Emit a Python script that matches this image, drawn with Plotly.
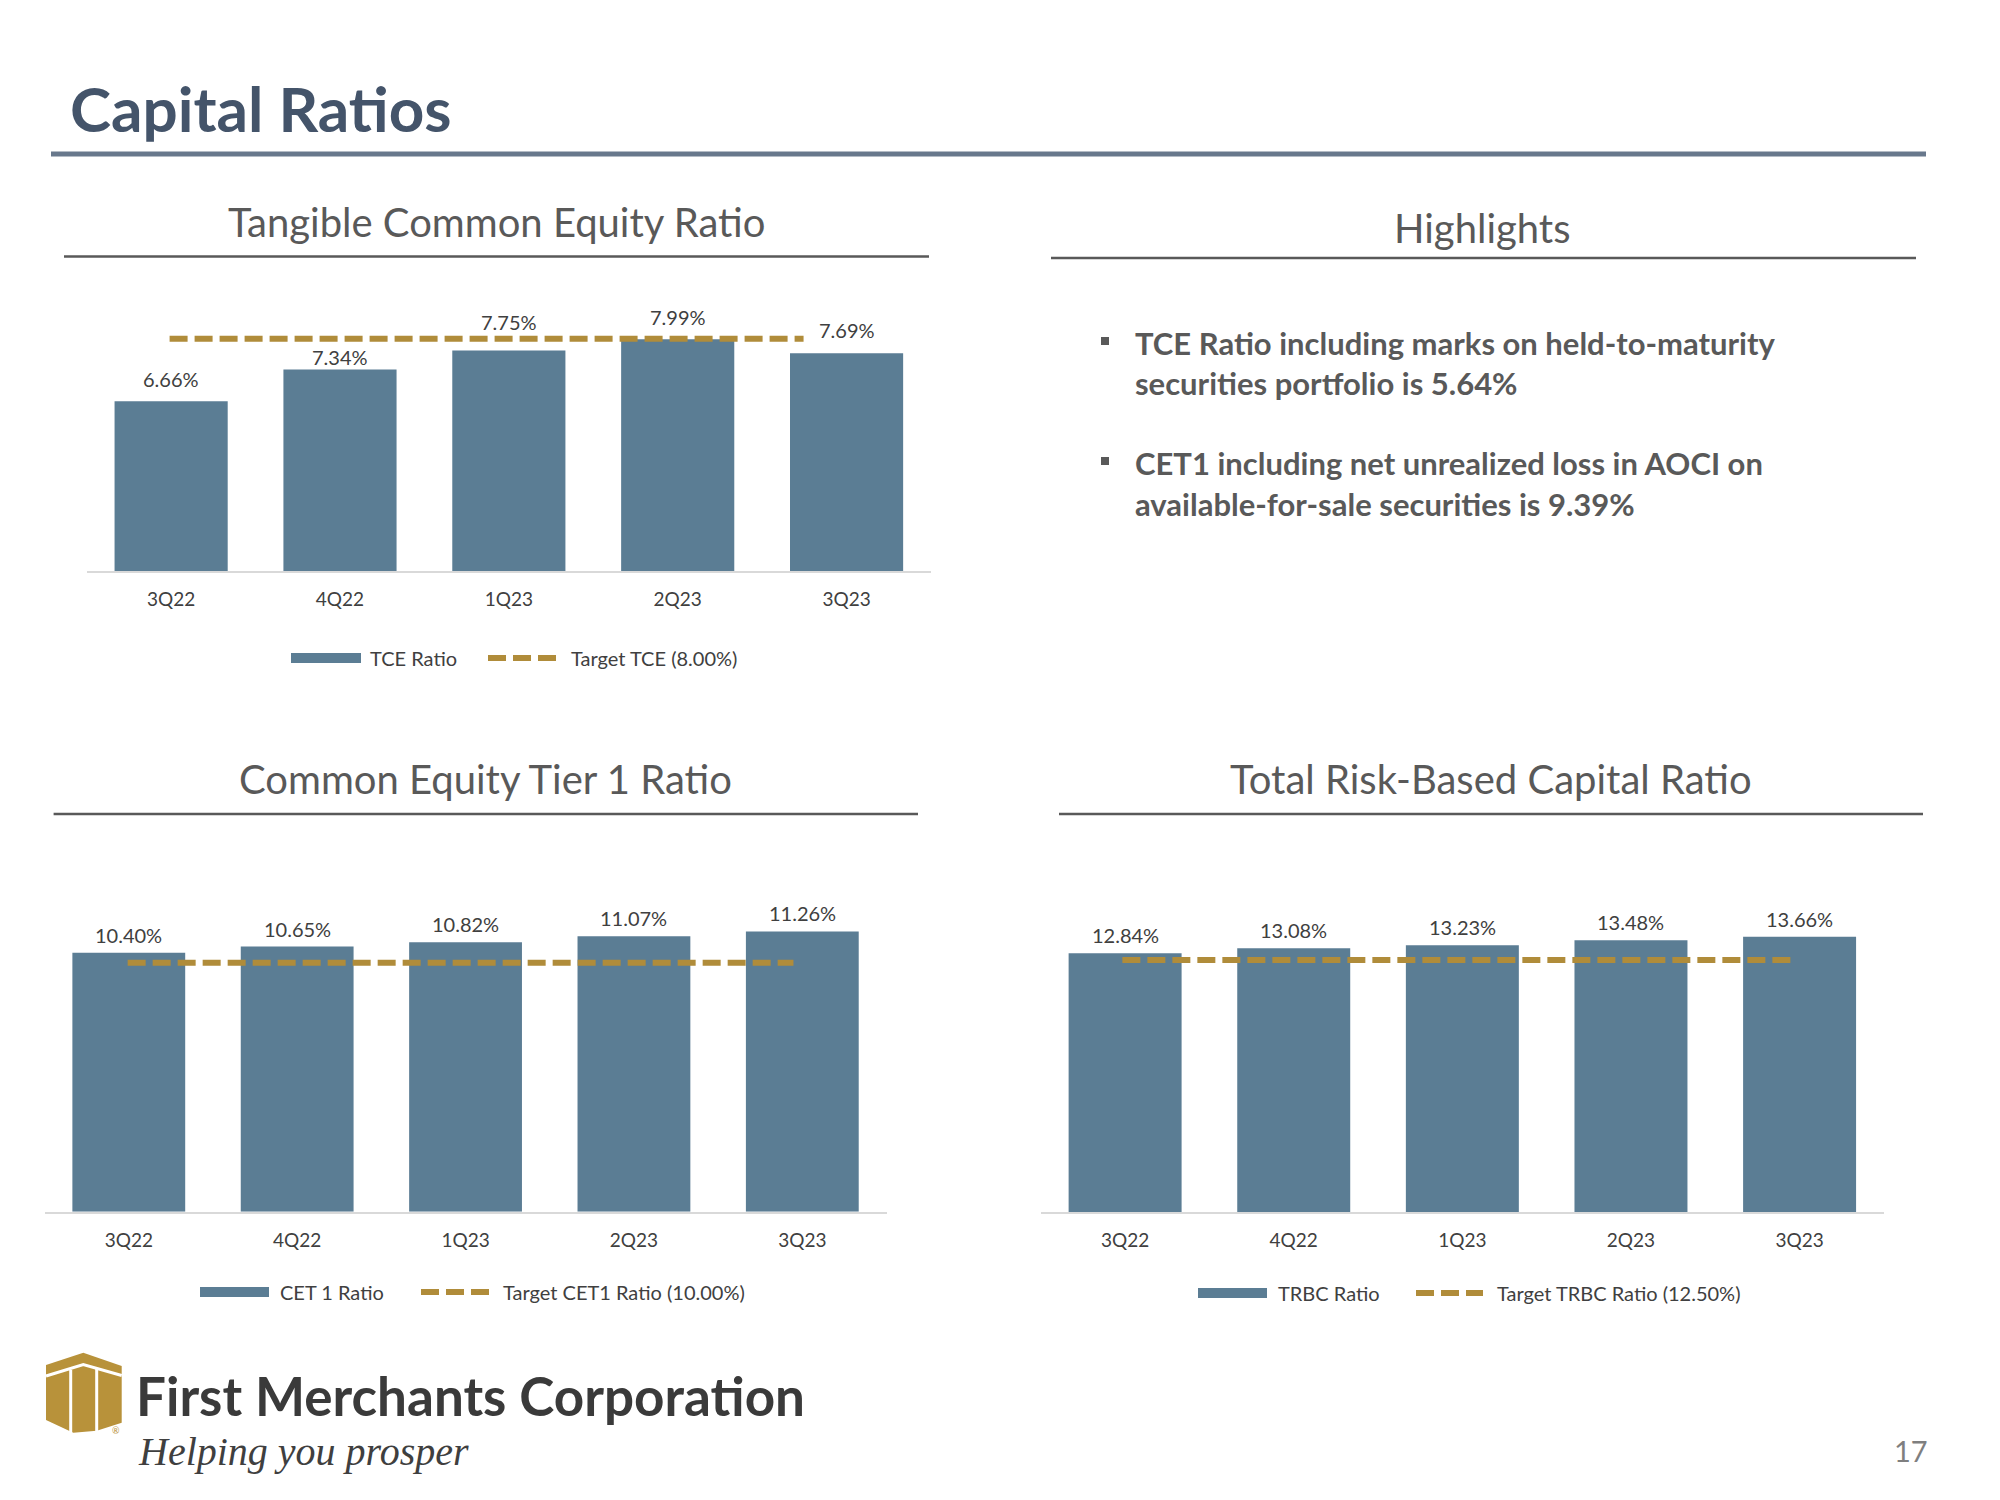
import plotly.graph_objects as go

# The page body has an 8px default margin; size the figure so it fills the
# remaining window and convert page pixel positions into figure fractions.
PAGE_OFF = 8
W, H = 2000 - PAGE_OFF, 1500 - PAGE_OFF

# ---------------- data ----------------
quarters = ["3Q22", "4Q22", "1Q23", "2Q23", "3Q23"]

tce_ratio = [6.66, 7.34, 7.75, 7.99, 7.69]
tce_target = [8.00, 8.00, 8.00, 8.00, 8.00]

cet1_ratio = [10.40, 10.65, 10.82, 11.07, 11.26]
cet1_target = [10.00, 10.00, 10.00, 10.00, 10.00]

trbc_ratio = [12.84, 13.08, 13.23, 13.48, 13.66]
trbc_target = [12.50, 12.50, 12.50, 12.50, 12.50]

chart_titles = ["Tangible Common Equity Ratio", "Common Equity Tier 1 Ratio",
                "Total Risk-Based Capital Ratio"]
bar_names = ["TCE Ratio", "CET 1 Ratio", "TRBC Ratio"]
target_names = ["Target TCE (8.00%)", "Target CET1 Ratio (10.00%)",
                "Target TRBC Ratio (12.50%)"]

highlights = [
    ["TCE Ratio including marks on held-to-maturity",
     "securities portfolio is 5.64%"],
    ["CET1 including net unrealized loss in AOCI on",
     "available-for-sale securities is 9.39%"],
]

# ---------------- style ----------------
FONT = "Lato, 'Open Sans', sans-serif"
BAR = "#5B7D94"
GOLD = "#B08C3A"
TXT = "#404040"
SUB = "#595959"
TITLE = "#44546A"

# label nudges (pixels) for the manually placed data labels of the TCE chart
tce_label_nudge = [0, -9, 6, 0, 1]
flat_nudge = [0, 0, 0, 0, 0]


def fx(p):
    return (p - PAGE_OFF) / W


def fy(p):
    return 1 - (p - PAGE_OFF) / H


fig = go.Figure()

charts = [
    dict(vals=tce_ratio, tgt=tce_target, xa="x", ya="y", ov="x4",
         xdom=(86.7, 931), ydom=(571.4, 292.3), yr=[3, 9],
         ovr=[-0.523, 4.804], yshift=8, nudge=tce_label_nudge,
         title_xy=(496, 222), rule=(64, 929, 256.4),
         leg=(658, 291, 361, 368, 488, 556, 569)),
    dict(vals=cet1_ratio, tgt=cet1_target, xa="x2", ya="y2", ov="x5",
         xdom=(44.6, 886.5), ydom=(1211.7, 875.4), yr=[0, 13.51],
         ovr=[-0.499, 4.559], yshift=4, nudge=flat_nudge,
         title_xy=(485, 779), rule=(53.6, 918, 814),
         leg=(1292, 200, 269, 278, 421, 490, 501)),
    dict(vals=trbc_ratio, tgt=trbc_target, xa="x3", ya="y3", ov="x6",
         xdom=(1040.8, 1883.9), ydom=(1212, 875.4), yr=[0, 16.70],
         ovr=[-0.488, 4.557], yshift=4, nudge=flat_nudge,
         title_xy=(1491, 779), rule=(1059, 1923, 814),
         leg=(1293, 1198, 1267, 1276, 1416, 1483, 1495)),
]

annotations = []
shapes = []
layout_axes = {}

for i, c in enumerate(charts):
    fig.add_trace(go.Bar(x=quarters, y=c["vals"], xaxis=c["xa"], yaxis=c["ya"],
                         marker=dict(color=BAR, line=dict(width=0)),
                         name=bar_names[i], showlegend=False, hoverinfo="skip"))
    fig.add_trace(go.Scatter(x=quarters, y=c["tgt"], xaxis=c["ov"], yaxis=c["ya"],
                             mode="lines", name=target_names[i], showlegend=False,
                             line=dict(color=GOLD, width=6, dash="18px,7px"),
                             hoverinfo="skip"))
    xkey = "xaxis" + c["xa"][1:]
    ykey = "yaxis" + c["ya"][1:]
    okey = "xaxis" + c["ov"][1:]
    layout_axes[xkey] = dict(domain=[fx(c["xdom"][0]), fx(c["xdom"][1])], anchor=c["ya"],
                             type="category", showgrid=False, zeroline=False,
                             showline=True, linecolor="#D9D9D9", linewidth=2,
                             ticks="", ticklabelstandoff=10,
                             tickfont=dict(family=FONT, size=19, color=TXT),
                             fixedrange=True)
    layout_axes[ykey] = dict(domain=[fy(c["ydom"][0]), fy(c["ydom"][1])], anchor=c["xa"],
                             range=c["yr"], visible=False, showgrid=False,
                             zeroline=False, fixedrange=True)
    layout_axes[okey] = dict(overlaying=c["xa"], anchor=c["ya"], type="category",
                             range=c["ovr"], visible=False, showgrid=False,
                             zeroline=False, fixedrange=True)
    # data labels
    for q, v, n in zip(quarters, c["vals"], c["nudge"]):
        annotations.append(dict(x=q, y=v, xref=c["xa"], yref=c["ya"],
                                text=f"{v:.2f}%", showarrow=False,
                                yanchor="bottom", yshift=c["yshift"] + n,
                                font=dict(family=FONT, size=20, color=TXT)))
    # chart title and rule
    tx, ty = c["title_xy"]
    annotations.append(dict(x=fx(tx), y=fy(ty), xref="paper", yref="paper",
                            text=chart_titles[i], showarrow=False,
                            xanchor="center", yanchor="middle",
                            font=dict(family=FONT, size=40, color=SUB)))
    x0, x1, ry = c["rule"]
    shapes.append(dict(type="line", xref="paper", yref="paper",
                       x0=fx(x0), x1=fx(x1), y0=fy(ry), y1=fy(ry),
                       line=dict(color=SUB, width=2.5)))
    # custom legend
    ly, bx0, bx1, btx, dx0, dx1, dtx = c["leg"]
    shapes.append(dict(type="rect", xref="paper", yref="paper",
                       x0=fx(bx0), x1=fx(bx1), y0=fy(ly - 5), y1=fy(ly + 5),
                       fillcolor=BAR, line=dict(width=0)))
    shapes.append(dict(type="line", xref="paper", yref="paper",
                       x0=fx(dx0), x1=fx(dx1), y0=fy(ly), y1=fy(ly),
                       line=dict(color=GOLD, width=6, dash="18px,7px")))
    annotations.append(dict(x=fx(btx), y=fy(ly), xref="paper", yref="paper",
                            text=bar_names[i], showarrow=False,
                            xanchor="left", yanchor="middle",
                            font=dict(family=FONT, size=20, color=TXT)))
    annotations.append(dict(x=fx(dtx), y=fy(ly), xref="paper", yref="paper",
                            text=target_names[i], showarrow=False,
                            xanchor="left", yanchor="middle",
                            font=dict(family=FONT, size=20, color=TXT)))

# ---------------- slide title ----------------
annotations.append(dict(x=fx(68), y=fy(108), xref="paper", yref="paper",
                        text="<b>Capital Ratios</b>", showarrow=False,
                        xanchor="left", yanchor="middle",
                        font=dict(family=FONT, size=62, color=TITLE)))
shapes.append(dict(type="line", xref="paper", yref="paper",
                   x0=fx(51), x1=fx(1926), y0=fy(154), y1=fy(154),
                   line=dict(color="#68788C", width=5)))

# ---------------- highlights ----------------
annotations.append(dict(x=fx(1482), y=fy(228), xref="paper", yref="paper",
                        text="Highlights", showarrow=False,
                        xanchor="center", yanchor="middle",
                        font=dict(family=FONT, size=40, color=SUB)))
shapes.append(dict(type="line", xref="paper", yref="paper",
                   x0=fx(1051), x1=fx(1916), y0=fy(258), y1=fy(258),
                   line=dict(color=SUB, width=2.5)))
line_y = [[343, 383], [463, 504]]
for b, lines in enumerate(highlights):
    ys = line_y[b]
    shapes.append(dict(type="rect", xref="paper", yref="paper",
                       x0=fx(1101), x1=fx(1109), y0=fy(ys[0] - 6), y1=fy(ys[0] + 2),
                       fillcolor=SUB, line=dict(width=0)))
    for t, yy in zip(lines, ys):
        annotations.append(dict(x=fx(1133), y=fy(yy), xref="paper", yref="paper",
                                text=f"<b>{t}</b>", showarrow=False,
                                xanchor="left", yanchor="middle",
                                font=dict(family=FONT, size=31, color=SUB)))

# ---------------- logo ----------------
def path_from(pts, close=True):
    s = "M " + " L ".join(f"{fx(x):.5f},{fy(y):.5f}" for x, y in pts)
    return s + (" Z" if close else "")


icon = [(46, 1365), (83.3, 1352.7), (121.7, 1366), (121.7, 1422.7),
        (96.7, 1430.7), (73.3, 1432.7), (46, 1420)]
shapes.append(dict(type="path", xref="paper", yref="paper", path=path_from(icon),
                   fillcolor="#B8923A", line=dict(width=0)))
shapes.append(dict(type="path", xref="paper", yref="paper",
                   path=path_from([(46, 1376), (83.3, 1364.5), (121.7, 1375.5)], close=False),
                   line=dict(color="white", width=3)))
for vx, vy0 in [(70.7, 1370), (96.7, 1369)]:
    shapes.append(dict(type="line", xref="paper", yref="paper",
                       x0=fx(vx), x1=fx(vx), y0=fy(vy0), y1=fy(1434),
                       line=dict(color="white", width=3)))
annotations.append(dict(x=fx(116), y=fy(1430), xref="paper", yref="paper",
                        text="®", showarrow=False, xanchor="center", yanchor="middle",
                        font=dict(family=FONT, size=9, color="#B8923A")))
annotations.append(dict(x=fx(134), y=fy(1395), xref="paper", yref="paper",
                        text="<b>First Merchants Corporation</b>", showarrow=False,
                        xanchor="left", yanchor="middle",
                        font=dict(family=FONT, size=53, color="#3A3A3A")))
annotations.append(dict(x=fx(136), y=fy(1451), xref="paper", yref="paper",
                        text="<i>Helping you prosper</i>", showarrow=False,
                        xanchor="left", yanchor="middle",
                        font=dict(family="'Liberation Serif', 'DejaVu Serif', serif",
                                  size=40, color="#3F3F3F")))

# page number
annotations.append(dict(x=fx(1911), y=fy(1450), xref="paper", yref="paper",
                        text="17", showarrow=False, xanchor="center", yanchor="middle",
                        font=dict(family=FONT, size=29, color="#7F7F7F")))

fig.update_layout(
    width=W, height=H,
    margin=dict(l=0, r=0, t=0, b=0),
    paper_bgcolor="white", plot_bgcolor="rgba(0,0,0,0)",
    bargap=0.33, showlegend=False,
    annotations=annotations, shapes=shapes,
    **layout_axes,
)

fig.write_html("out.html", config={"displayModeBar": False})
